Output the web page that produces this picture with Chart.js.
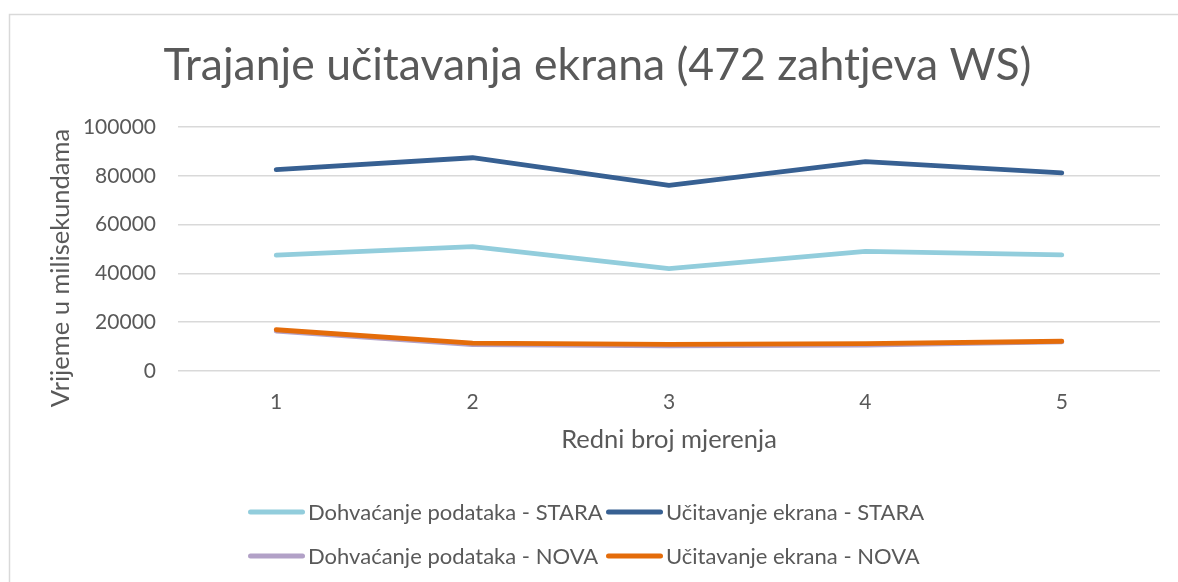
<!DOCTYPE html>
<html>
<head>
<meta charset="utf-8">
<script src="https://cdn.jsdelivr.net/npm/chart.js@4.4.1/dist/chart.umd.min.js"></script>
<style>
html,body{margin:0;padding:0;background:#fff;}
#wrap{width:1178px;height:582px;position:relative;}
canvas{display:block;}
</style>
</head>
<body>
<div id="wrap"><canvas id="c" width="1178" height="582"></canvas></div>
<script>
// ---- data ----
const categories = ['1', '2', '3', '4', '5'];
const dohvacanjeStara = [47500, 51000, 42000, 49000, 47600];
const ucitavanjeStara = [82500, 87400, 76100, 85800, 81200];
const dohvacanjeNova  = [16300, 10800, 10300, 10600, 11900];
const ucitavanjeNova  = [16900, 11400, 10900, 11200, 12200];
const yTicks = [0, 20000, 40000, 60000, 80000, 100000];
const seriesNames = [
  'Dohvaćanje podataka - STARA',
  'Učitavanje ekrana - STARA',
  'Dohvaćanje podataka - NOVA',
  'Učitavanje ekrana - NOVA'
];
const chartTitle = 'Trajanje učitavanja ekrana (472 zahtjeva WS)';
const yTitle = 'Vrijeme u milisekundama';
const xTitle = 'Redni broj mjerenja';

// ---- style ----
const FONT = 'Lato';
const TXT = '#595959';
const GRID = '#d9d9d9';
const colors = ['#92CDDC', '#376092', '#B2A1C7', '#E46C0A'];
const seriesData = [dohvacanjeStara, ucitavanjeStara, dohvacanjeNova, ucitavanjeNova];

const framePlugin = {
  id: 'frame',
  beforeDraw(chart) {
    const ctx = chart.ctx;
    ctx.save();
    ctx.fillStyle = '#fff';
    ctx.fillRect(0, 0, chart.width, chart.height);
    ctx.strokeStyle = GRID;
    ctx.lineWidth = 1.5;
    ctx.strokeRect(9.5, 14.5, chart.width + 20, chart.height + 20);
    ctx.restore();
  },
  afterDraw(chart) {
    const ctx = chart.ctx;
    // chart title
    ctx.save();
    ctx.fillStyle = TXT;
    ctx.font = '44.5px ' + FONT;
    ctx.textAlign = 'center';
    ctx.textBaseline = 'alphabetic';
    ctx.fillText(chartTitle, 597.5, 80);
    ctx.restore();

    // y axis title
    ctx.save();
    ctx.fillStyle = TXT;
    ctx.font = '25.5px ' + FONT;
    ctx.textAlign = 'center';
    ctx.textBaseline = 'middle';
    ctx.translate(61, 268);
    ctx.rotate(-Math.PI / 2);
    ctx.fillText(yTitle, 0, 0);
    ctx.restore();

    // legend (2 x 2)
    const colX = [248, 606];
    const rowY = [512, 556];
    ctx.save();
    ctx.font = '22px ' + FONT;
    ctx.textAlign = 'left';
    ctx.textBaseline = 'middle';
    chart.data.datasets.forEach((ds, i) => {
      const x = colX[i % 2];
      const y = rowY[Math.floor(i / 2)];
      ctx.strokeStyle = ds.borderColor;
      ctx.lineWidth = 5;
      ctx.lineCap = 'round';
      ctx.beginPath();
      ctx.moveTo(x + 2.5, y);
      ctx.lineTo(x + 54.5, y);
      ctx.stroke();
      ctx.fillStyle = TXT;
      ctx.fillText(ds.label, x + 60, y + 1);
    });
    ctx.restore();
  }
};

const datasets = seriesNames.map((name, i) => ({
  label: name,
  data: seriesData[i],
  borderColor: colors[i],
  backgroundColor: colors[i],
  borderWidth: 4.8,
  borderCapStyle: 'round',
  borderJoinStyle: 'round',
  pointRadius: 0,
  pointHoverRadius: 0,
  tension: 0,
  fill: false,
  order: seriesNames.length - i
}));

new Chart(document.getElementById('c'), {
  type: 'line',
  data: { labels: categories, datasets },
  plugins: [framePlugin],
  options: {
    responsive: false,
    animation: false,
    devicePixelRatio: 1,
    layout: { padding: { left: 0, right: 18, top: 127, bottom: 121 } },
    plugins: {
      legend: { display: false },
      tooltip: { enabled: false },
      title: { display: false }
    },
    scales: {
      x: {
        type: 'category',
        offset: true,
        grid: { display: false, drawTicks: false },
        border: { display: false },
        ticks: { color: TXT, font: { family: FONT, size: 21 }, padding: 19, maxRotation: 0 },
        title: {
          display: true, text: xTitle, color: TXT,
          font: { family: FONT, size: 25.5, lineHeight: 1.2 },
          padding: { top: 0, bottom: 6 }
        },
        afterFit(s) { s.height = 90; }
      },
      y: {
        min: 0,
        max: 100000,
        grid: { color: GRID, lineWidth: 1.5, drawTicks: false },
        border: { display: false },
        ticks: {
          color: TXT,
          font: { family: FONT, size: 21 },
          padding: 22,
          callback: v => String(v)
        },
        afterBuildTicks(s) { s.ticks = yTicks.map(v => ({ value: v })); },
        afterFit(s) { s.width = 178; }
      }
    }
  }
});
</script>
</body>
</html>
